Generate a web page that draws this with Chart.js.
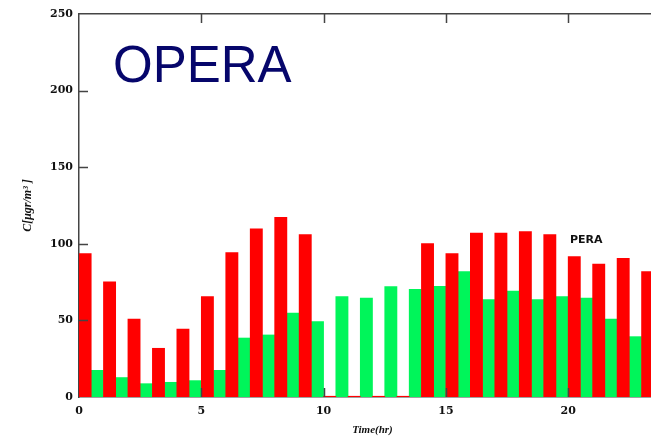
<!DOCTYPE html>
<html>
<head>
<meta charset="utf-8">
<script src="https://cdn.jsdelivr.net/npm/chart.js@4"></script>
<style>
  html, body { margin: 0; padding: 0; background: #fff; overflow: hidden; }
  #wrap { width: 651px; height: 438px; overflow: hidden; }
</style>
</head>
<body>
<div id="wrap"><canvas id="chart" width="666" height="438"></canvas></div>
<script>
// hourly values
const HOURS = [0, 1, 2, 3, 4, 5, 6, 7, 8, 9, 10, 11, 12, 13, 14, 15, 16, 17, 18, 19, 20, 21, 22, 23];
const OBSERVED = [93.6, 75.1, 50.9, 31.8, 44.4, 65.5, 94.2, 109.7, 117.3, 106, 0.5, 0.5, 0.5, 0.5,
                  100.1, 93.6, 107, 107, 108, 106, 91.6, 86.8, 90.5, 81.8];
const MODEL = [17.4, 12.7, 8.7, 9.6, 10.7, 17.4, 38.5, 40.5, 54.8, 49.2, 65.5, 64.6, 72.0, 70.3,
               72.3, 81.8, 63.6, 69.2, 63.6, 65.5, 64.6, 50.9, 39.4, null];
const Y_TICK_MARKS = [50, 100, 150, 200];
const X_TICK_MARKS = [5, 10, 15, 20];

const AXIS_COLOR = "#444444";
const TICK_FONT = { family: "DejaVu Serif", size: 11, weight: "bold" };

const innerTicks = {
    id: "innerTicks",
    afterDatasetsDraw(chart) {
        const { ctx, chartArea: a, scales } = chart;
        ctx.save();
        ctx.strokeStyle = AXIS_COLOR;
        ctx.lineWidth = 1.5;
        ctx.beginPath();
        for (const v of Y_TICK_MARKS) {
            const y = Math.round(scales.y.getPixelForValue(v)) + 0.5;
            ctx.moveTo(a.left, y);
            ctx.lineTo(a.left + 9, y);
        }
        for (const v of X_TICK_MARKS) {
            const x = Math.round(scales.x.getPixelForValue(v)) + 0.5;
            ctx.moveTo(x, a.top);
            ctx.lineTo(x, a.top + 9);
            ctx.moveTo(x, a.bottom);
            ctx.lineTo(x, a.bottom - 9);
        }
        ctx.stroke();

        // labels inside the plot
        ctx.fillStyle = "#06066b";
        ctx.font = "51px 'Liberation Sans', Arial, sans-serif";
        ctx.textBaseline = "alphabetic";
        ctx.fillText("OPERA", 113, 82);
        ctx.fillStyle = "#111";
        ctx.font = "bold 11px 'DejaVu Sans', sans-serif";
        ctx.fillText("PERA", 570, 243);
        ctx.restore();
    },
};

new Chart(document.getElementById("chart"), {
    type: "bar",
    data: {
        labels: HOURS,
        datasets: [
            {
                label: "OPERA obs",
                data: OBSERVED,
                backgroundColor: "#ff0000",
                xAxisID: "xc",
                categoryPercentage: 1,
                barPercentage: 1,
            },
            {
                label: "OPERA model",
                data: MODEL,
                backgroundColor: "#00f55a",
                xAxisID: "xc",
                categoryPercentage: 1,
                barPercentage: 1,
            },
        ],
    },
    options: {
        responsive: false,
        animation: false,
        layout: { padding: 0 },
        plugins: { legend: { display: false }, tooltip: { enabled: false } },
        scales: {
            xc: { type: "category", display: false, offset: true },
            x: {
                type: "linear",
                position: "bottom",
                offset: false,
                min: 0,
                max: 24,
                grid: { display: false, tickLength: 0 },
                border: { color: AXIS_COLOR, width: 1.5 },
                ticks: { stepSize: 5, includeBounds: false, padding: 8, color: "#111", font: TICK_FONT, maxRotation: 0 },
                title: {
                    display: true,
                    text: "Time(hr)",
                    color: "#111",
                    font: { family: "Liberation Serif", size: 11, style: "italic", weight: "bold" },
                    padding: { top: 0, bottom: 1 },
                },
                afterFit: (scale) => { scale.height = 41; },
            },
            xt: {
                type: "linear",
                position: "top",
                offset: false,
                min: 0,
                max: 24,
                grid: { display: false, tickLength: 0 },
                border: { color: AXIS_COLOR, width: 1.5 },
                ticks: { display: false },
                afterFit: (scale) => { scale.height = 14; },
            },
            y: {
                min: 0,
                max: 250,
                grid: { display: false, tickLength: 0 },
                border: { color: AXIS_COLOR, width: 1.5 },
                ticks: { stepSize: 50, padding: 6, color: "#111", font: TICK_FONT },
                title: {
                    display: true,
                    text: "C[μgr/m³ ]",
                    color: "#111",
                    font: { family: "Liberation Serif", size: 12, style: "italic", weight: "bold" },
                    padding: { top: 21, bottom: 0 },
                },
                afterFit: (scale) => { scale.width = 79; },
            },
        },
    },
    plugins: [innerTicks],
});
</script>
</body>
</html>
